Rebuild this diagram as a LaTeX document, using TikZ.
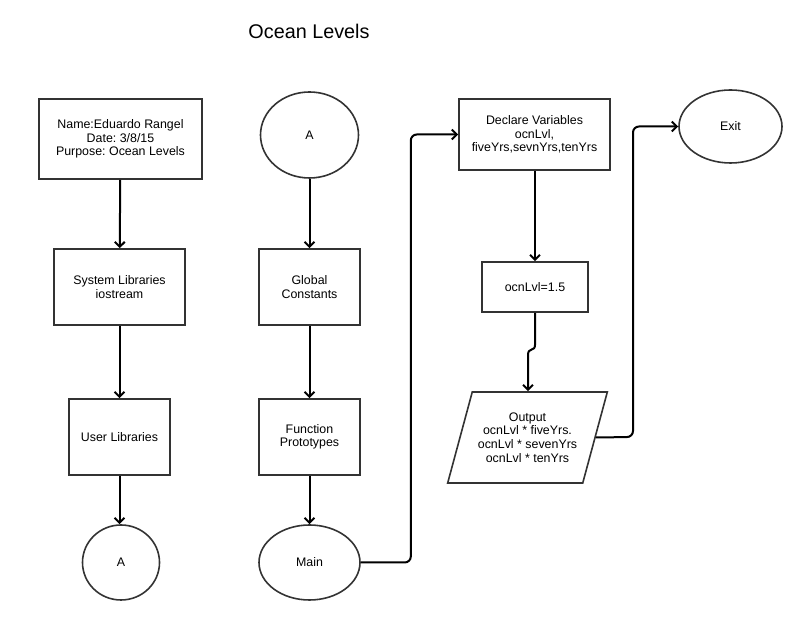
\documentclass[tikz,border=0pt]{standalone}
\usepackage{fontspec}
\setmainfont{Liberation Sans}
\frenchspacing
\usetikzlibrary{arrows.meta,shapes.geometric}

\begin{document}
\begin{tikzpicture}[x=1pt, y=1pt,
    nodes={font=\fontsize{12.4}{13.6}\selectfont, align=center, inner sep=0pt},
    box/.style={draw=black!80, line width=1.6pt, minimum width=#1, minimum height=76pt},
    term/.style={draw=black!80, line width=1.6pt, ellipse},
    io/.style={draw=black!80, line width=1.6pt, trapezium, trapezium left angle=66,
      trapezium right angle=114, trapezium stretches=true},
    flow/.style={-{Straight Barb[length=5pt,width=10pt]}, line width=2pt, rounded corners=6pt}]
  \useasboundingbox (0,0) rectangle (806,620);
  \node[font=\fontsize{19.8}{22}\selectfont] (title) at (309,589) {Ocean Levels};
  % first column
  \node[box=163pt, minimum height=80pt] (name) at (120.5,481)
    {Name:Eduardo Rangel\\Date: 3/8/15\\Purpose: Ocean Levels};
  \node[box=131pt] (syslib) at (119.5,333) {System Libraries\\iostream};
  \node[box=101pt] (userlib) at (119.5,183) {User Libraries};
  \node[term, minimum width=77pt, minimum height=75pt] (conA1) at (121,57.5) {A};
  % second column
  \node[term, minimum width=98pt, minimum height=86pt] (conA2) at (309.5,485) {A};
  \node[box=101pt] (globals) at (309.5,333) {Global\\Constants};
  \node[box=101pt] (protos) at (309.5,183) {Function\\Prototypes};
  \node[term, minimum width=101pt, minimum height=75pt] (main) at (309.5,57.5) {Main};
  % third column
  \node[box=151pt, minimum height=71pt] (decl) at (534.5,485.5)
    {Declare Variables\\ocnLvl,\\fiveYrs,sevnYrs,tenYrs};
  \node[box=106pt, minimum height=50pt] (init) at (535,333) {ocnLvl=1.5};
  \node[io, minimum width=160pt, minimum height=91pt] (out) at (527.5,182.5)
    {Output\\ocnLvl * fiveYrs.\\ocnLvl * sevenYrs\\ocnLvl * tenYrs};
  \node[term, minimum width=103pt, minimum height=73pt] (exit) at (730.5,493.5) {Exit};

  \draw[flow] (name) -- (syslib);
  \draw[flow] (syslib) -- (userlib);
  \draw[flow] (userlib.south) -- (userlib.south |- conA1.north);
  \draw[flow] (conA2) -- (globals);
  \draw[flow] (globals) -- (protos);
  \draw[flow] (protos) -- (main);
  \draw[flow] (main.east) -- ++(50,0) |- (decl.west);
  \draw[flow] (init.north |- decl.south) -- (init.north);
  \draw[flow, sharp corners] (init.south) -- (535,275) .. controls (535,268) and (528,273) .. (528,265)
    -- (out.north -| 528,0);
  \draw[flow] (out.east) -- (633,183) |- (exit.west);
\end{tikzpicture}
\end{document}
